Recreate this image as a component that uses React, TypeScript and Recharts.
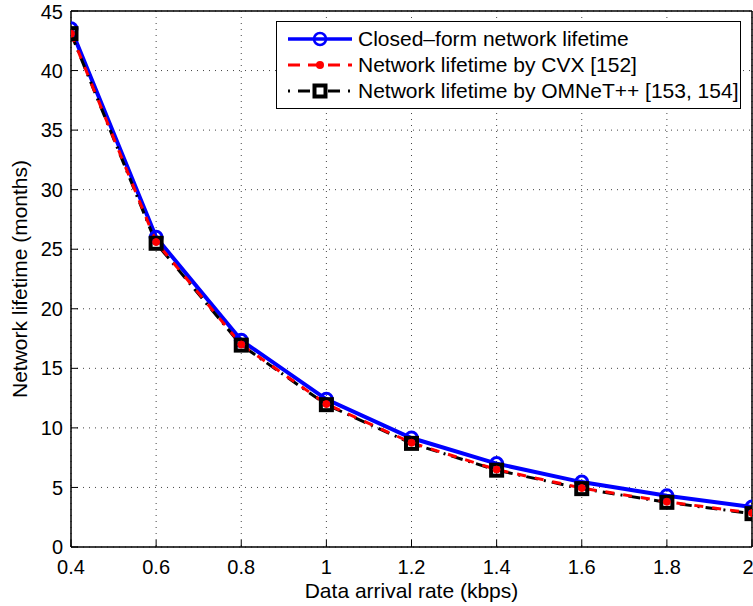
import { CartesianGrid, Legend, Line, LineChart, XAxis, YAxis } from 'recharts'

const rates = [0.4, 0.6, 0.8, 1.0, 1.2, 1.4, 1.6, 1.8, 2.0]
const closedForm = [43.5, 26.0, 17.35, 12.4, 9.15, 7.0, 5.45, 4.3, 3.35]
const cvx = [43.1, 25.6, 17.0, 12.0, 8.75, 6.5, 4.95, 3.8, 2.85]
const omnet = [43.1, 25.5, 16.95, 11.95, 8.7, 6.45, 4.9, 3.75, 2.8]

const xTicks = [0.4, 0.6, 0.8, 1, 1.2, 1.4, 1.6, 1.8, 2]
const yTicks = [0, 5, 10, 15, 20, 25, 30, 35, 40, 45]

const seriesNames = [
  'Closed\u2013form network lifetime',
  'Network lifetime by CVX [152]',
  'Network lifetime by OMNeT++ [153, 154]',
]

const data = rates.map((r, i) => ({
  rate: r,
  closed: closedForm[i],
  cvx: cvx[i],
  omnet: omnet[i],
}))

const font = '"Liberation Sans", Arial, Helvetica, sans-serif'
const tickStyle = { fontSize: 20, fill: '#000', fontFamily: font }

function SquareDot(props: any) {
  const { cx, cy, index } = props
  if (cx == null || cy == null) return null
  return (
    <rect key={`sq-${index}`} x={cx - 5.5} y={cy - 5.5} width={11} height={11} fill="none" stroke="#000" strokeWidth={4} />
  )
}

function LegendIcon({ kind }: { kind: number }) {
  return (
    <svg width={64} height={20} style={{ display: 'block' }}>
      {kind === 0 && (
        <>
          <line x1={0} y1={10} x2={64} y2={10} stroke="#0000ff" strokeWidth={3.5} />
          <circle cx={32} cy={10} r={6} fill="none" stroke="#0000ff" strokeWidth={2.5} />
        </>
      )}
      {kind === 1 && (
        <>
          <line x1={0} y1={10} x2={64} y2={10} stroke="#ff0000" strokeWidth={3} strokeDasharray="12 8" />
          <circle cx={32} cy={10} r={4} fill="#ff0000" />
        </>
      )}
      {kind === 2 && (
        <>
          <line x1={0} y1={10} x2={64} y2={10} stroke="#000" strokeWidth={3} strokeDasharray="2 8 12 8" />
          <rect x={26.5} y={4.5} width={11} height={11} fill="#fff" stroke="#000" strokeWidth={4} />
        </>
      )}
    </svg>
  )
}

function LegendBox() {
  return (
    <div
      style={{
        border: '1px solid #000',
        background: '#fff',
        padding: '4px 0 4px 11px',
        fontFamily: font,
        fontSize: 21,
        color: '#000',
      }}
    >
      {seriesNames.map((name, i) => (
        <div key={name} style={{ display: 'flex', alignItems: 'center', height: 26 }}>
          <LegendIcon kind={i} />
          <span style={{ marginLeft: 6, whiteSpace: 'nowrap' }}>{name}</span>
        </div>
      ))}
    </div>
  )
}

export default function App() {
  return (
    <div style={{ position: 'absolute', left: 0, top: 0, width: 753, height: 606, background: '#fff' }}>
      <LineChart
        width={753}
        height={606}
        data={data}
        margin={{ top: 10, right: 0, left: 0, bottom: 0 }}
        style={{ fontFamily: font }}
      >
        <CartesianGrid stroke="#444" strokeDasharray="1 5" strokeWidth={1} />
        <XAxis
          dataKey="rate"
          type="number"
          domain={[0.4, 2]}
          ticks={xTicks}
          allowDataOverflow
          height={59}
          tickSize={-7}
          tickMargin={20}
          tick={tickStyle}
          axisLine={{ stroke: '#000', strokeWidth: 1.5 }}
          tickLine={{ stroke: '#000' }}
          label={{ value: 'Data arrival rate (kbps)', position: 'insideBottom', offset: 8, fill: '#000', fontSize: 21 }}
        />
        <XAxis
          xAxisId="top"
          orientation="top"
          dataKey="rate"
          type="number"
          domain={[0.4, 2]}
          ticks={xTicks}
          allowDataOverflow
          height={1}
          tickSize={-7}
          tick={false}
          axisLine={{ stroke: '#000', strokeWidth: 1.5 }}
          tickLine={{ stroke: '#000' }}
        />
        <YAxis
          type="number"
          domain={[0, 45]}
          ticks={yTicks}
          allowDataOverflow
          width={71}
          tickSize={-7}
          tickMargin={15}
          tick={tickStyle}
          axisLine={{ stroke: '#000', strokeWidth: 1.5 }}
          tickLine={{ stroke: '#000' }}
          label={{
            value: 'Network lifetime (months)',
            angle: -90,
            position: 'insideLeft',
            offset: 20,
            fill: '#000',
            fontSize: 21,
            style: { textAnchor: 'middle' },
          }}
        />
        <YAxis
          yAxisId="right"
          orientation="right"
          type="number"
          domain={[0, 45]}
          ticks={yTicks}
          allowDataOverflow
          width={1}
          tickSize={-7}
          tick={false}
          axisLine={{ stroke: '#000', strokeWidth: 1.5 }}
          tickLine={{ stroke: '#000' }}
        />
        <Legend
          layout="vertical"
          align="center"
          verticalAlign="middle"
          content={() => <LegendBox />}
          wrapperStyle={{ left: 276, top: 21, width: 465 }}
        />
        <Line
          dataKey="closed"
          name={seriesNames[0]}
          stroke="#0000ff"
          strokeWidth={4}
          dot={{ r: 6, fill: 'none', stroke: '#0000ff', strokeWidth: 3 }}
          isAnimationActive={false}
        />
        <Line
          dataKey="omnet"
          name={seriesNames[2]}
          stroke="#000"
          strokeWidth={3}
          strokeDasharray="12 6 2 6"
          dot={<SquareDot />}
          isAnimationActive={false}
        />
        <Line
          dataKey="cvx"
          name={seriesNames[1]}
          stroke="#ff0000"
          strokeWidth={3}
          strokeDasharray="9 9"
          dot={{ r: 3.5, fill: '#ff0000', stroke: '#ff0000', strokeWidth: 1, strokeDasharray: '0' }}
          isAnimationActive={false}
        />
      </LineChart>
    </div>
  )
}
